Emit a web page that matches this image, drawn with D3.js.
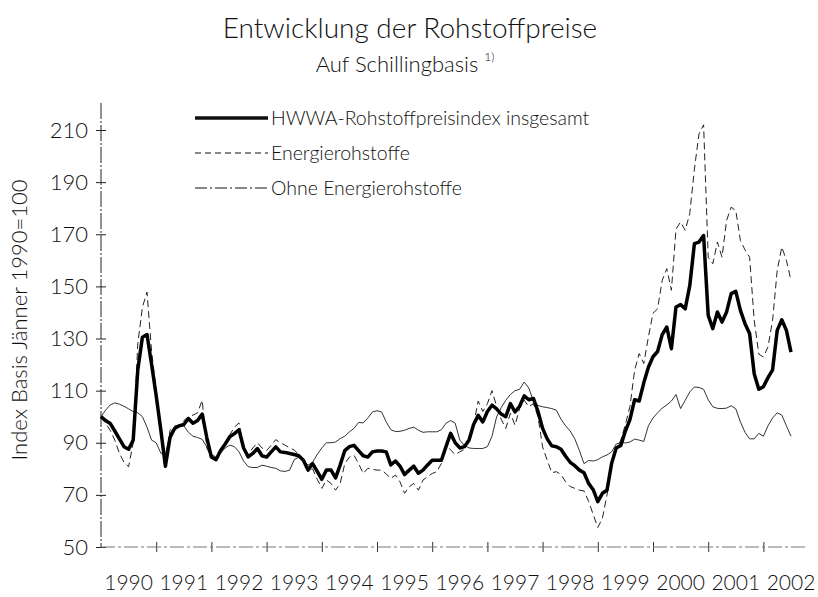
<!DOCTYPE html>
<html>
<head>
<meta charset="utf-8">
<script src="https://cdn.jsdelivr.net/npm/d3@7"></script>
<style>
  body { margin: 0; background: #fff; }
  svg text { font-family: Lato, "Open Sans", sans-serif; fill: #111; }
</style>
</head>
<body>
<div id="chart"></div>
<script>
// Monatswerte ab Jänner 1990 (Index Jänner 1990 = 100)
var gesamt = [
  100, 98.5, 97.4, 94.5, 91.5, 88.5, 87.5, 91, 118, 130.5, 131.5, 120,
  108, 95, 81, 92, 95.5, 96.5, 97, 99.3, 97.5, 98.5, 101, 92,
  84.5, 83.5, 87, 89.5, 92.3, 93.5, 95, 88, 84.6, 85.9, 87.8, 85,
  84.5, 86.5, 88.4, 86.5, 86.3, 85.9, 85.5, 85, 83.3, 79.5, 82, 79,
  76, 79.5, 79.5, 76.5, 81.5, 87, 88.5, 89, 87, 85, 84.5, 86.5,
  86.8, 86.8, 86.5, 81.5, 83, 81, 77.8, 79.5, 81, 78.3, 79.5, 81.5,
  83.3, 83.3, 83.3, 88.5, 93.6, 90, 88, 88.5, 91, 97, 100.5, 98,
  102, 104.4, 103, 101, 100, 105, 101.8, 104, 108, 106.5, 107, 102,
  95.5, 91.5, 88.8, 88.5, 87.5, 84.8, 82.5, 81.2, 79.5, 78.5, 74.4, 72,
  67.4, 70.6, 71.8, 82, 88, 89, 94.5, 99, 106.5, 106, 113, 119,
  123, 125, 131.5, 134.4, 126.1, 142.1, 143, 141.4, 150.4, 166.4, 167, 169.5,
  138.9, 133.8, 140.2, 136.3, 140.2, 147.2, 148.1, 140.8, 135.7, 131.9, 116.5, 110.5,
  111.5, 115, 118, 133.1, 137.2, 133.1, 124.8
];
var energie = [
  100, 97.5, 94.8, 91, 86, 82.5, 80.8, 90, 128, 142, 147.8, 125,
  110, 95, 81, 94.8, 96.5, 96.5, 98.5, 100, 100.6, 101.5, 106.3, 88,
  84.5, 83.5, 87, 90, 93, 96, 97.6, 88, 85.5, 88, 90, 88,
  87, 89, 91.2, 90, 89.1, 88, 87.2, 85.5, 83.5, 78.9, 80, 76,
  72.5, 75.7, 74.4, 71.8, 74.4, 82, 84.5, 85.2, 82, 78.2, 80.2, 79.8,
  79.5, 79.5, 78, 76.3, 77.6, 75, 70.6, 73.1, 74.4, 71.8, 75.7, 77,
  78.2, 78.9, 82, 89.7, 87.2, 85.5, 86.5, 87.5, 91, 97, 106, 102,
  105, 110, 104, 99, 95.5, 101.3, 96.7, 103.1, 106.3, 103.8, 105, 100,
  88.4, 83.3, 78.5, 78.9, 77.8, 75, 73.2, 72.5, 71.8, 71.5, 67.5, 62.5,
  57.5, 61, 70, 82, 87, 91, 97, 104, 117.8, 124.2, 120.4, 130.6,
  139.7, 141.4, 152.3, 156.8, 148.5, 172, 174.7, 171.5, 178, 195, 208.5, 212,
  161.2, 158.7, 167, 161.2, 175.3, 180.4, 179.1, 167.6, 164, 161.2, 137, 124,
  122.9, 126.8, 137, 156.1, 165.1, 160, 152.3
];
var ohneEnergie = [
  100, 102.5, 104.5, 105.3, 104.8, 104, 103, 102, 101.5, 100, 96, 91,
  90, 86, 85.5, 93.5, 96, 97, 96.5, 94, 92.5, 92, 91.3, 88.4,
  85.5, 84.5, 86, 88, 89.1, 88.5, 86.5, 83, 80.8, 80.5, 80.5, 81.4,
  81, 80.5, 80.2, 79.2, 79, 79.5, 83.5, 84.5, 83.3, 81.4, 82.5, 85.5,
  88, 90, 90, 90.3, 91.6, 92.5, 94.2, 95.5, 97.8, 97.6, 99.5, 101.8,
  102.3, 101.8, 98, 95, 94.3, 94.4, 94.8, 95.5, 96, 94.8, 94, 94.2,
  94.2, 94.2, 95, 97.5, 98.5, 97.5, 91, 89, 88, 87.8, 87.8, 87.8,
  88.5, 92.5, 99.9, 103.5, 106.3, 108.5, 110, 110.5, 113.3, 111, 106, 104.3,
  103.8, 103.5, 103.1, 102.5, 99, 96.5, 94.5, 91.5, 87, 82, 83.2, 83,
  83.5, 84.6, 85.3, 86.5, 89.5, 90.1, 89.9, 90.3, 91.4, 91, 90.5, 96.5,
  99.5, 101.5, 103.3, 104.5, 106, 108.5, 103.1, 106.3, 109.5, 111.4, 111.2, 110.5,
  106.5, 103.8, 103.2, 103.1, 103.3, 104.2, 103, 98, 94, 91.5, 91.5, 93.6,
  92.5, 96.5, 99.5, 101.5, 100.6, 96.5, 92.5
];
var jahre = [1990, 1991, 1992, 1993, 1994, 1995, 1996, 1997, 1998, 1999, 2000, 2001, 2002];
var yTicks = [50, 70, 90, 110, 130, 150, 170, 190, 210];
var legende = ["HWWA-Rohstoffpreisindex insgesamt", "Energierohstoffe", "Ohne Energierohstoffe"];

var width = 818, height = 597;
var svg = d3.select("#chart").append("svg")
    .attr("width", width)
    .attr("height", height);

// x: Jahre (Monate als Bruchteil), y: Indexwerte
var x = d3.scaleLinear().domain([1990, 2003]).range([101, 101 + 13 * 55.2]);
var y = d3.scaleLinear().domain([50, 210]).range([547, 130]);

// Titel
svg.append("text")
    .attr("x", 410).attr("y", 38)
    .attr("text-anchor", "middle")
    .style("font-size", "28px")
    .style("font-weight", 300)
    .text("Entwicklung der Rohstoffpreise");

var sub = svg.append("text")
    .attr("x", 405).attr("y", 72)
    .attr("text-anchor", "middle")
    .style("font-size", "22px")
    .style("font-weight", 300);
sub.append("tspan").text("Auf Schillingbasis ");
sub.append("tspan").attr("dy", -11).style("font-size", "12px").text("1)");

// y-Achse
var yAxis = svg.append("g")
    .attr("transform", "translate(" + x(1990) + ",0)")
    .call(d3.axisLeft(y).tickValues(yTicks).tickSize(5).tickPadding(8));
yAxis.select(".domain").remove();
yAxis.selectAll(".tick line").attr("x1", 5).attr("stroke", "#222");
yAxis.selectAll(".tick text")
    .style("font-size", "22px")
    .style("font-weight", 300)
    .style("font-family", "Lato, sans-serif")
    .attr("fill", "#111");
svg.append("line")
    .attr("x1", x(1990)).attr("x2", x(1990))
    .attr("y1", 103).attr("y2", y(50))
    .attr("stroke", "#222").attr("stroke-width", 1)
    .attr("stroke-dasharray", "16,2,2,2");

// x-Achse
var xAxis = svg.append("g")
    .attr("transform", "translate(0," + y(50) + ")")
    .call(d3.axisBottom(x).tickValues(d3.range(1991, 2003)).tickSize(5).tickFormat(""));
xAxis.select(".domain").remove();
xAxis.selectAll(".tick line").attr("y1", -5).attr("stroke", "#333");
svg.append("line")
    .attr("x1", x(1990)).attr("x2", 805)
    .attr("y1", y(50)).attr("y2", y(50))
    .attr("stroke", "#777").attr("stroke-width", 1.2)
    .attr("stroke-dasharray", "14,3,3,3");

svg.append("g").selectAll("text")
    .data(jahre)
    .enter().append("text")
    .attr("x", d => x(d + 0.5))
    .attr("y", 590)
    .attr("text-anchor", "middle")
    .style("font-size", "21px")
    .style("font-weight", 300)
    .text(d => d);

svg.append("text")
    .attr("transform", "translate(27,320) rotate(-90)")
    .attr("text-anchor", "middle")
    .style("font-size", "22px")
    .style("font-weight", 300)
    .text("Index Basis Jänner 1990=100");

// Linien
var line = d3.line()
    .x((d, i) => x(1990 + i / 12))
    .y(d => y(d));

var serien = [
    {werte: ohneEnergie, breite: 1, dash: null, farbe: "#333"},
    {werte: energie, breite: 1, dash: "7,4", farbe: "#222"},
    {werte: gesamt, breite: 3.5, dash: null, farbe: "#000"}
];

svg.selectAll("path.serie")
    .data(serien)
    .enter().append("path")
    .attr("class", "serie")
    .attr("d", d => line(d.werte))
    .attr("fill", "none")
    .attr("stroke", d => d.farbe)
    .attr("stroke-width", d => d.breite)
    .attr("stroke-dasharray", d => d.dash)
    .attr("stroke-linejoin", "round");

// Legende
var legStil = [
    {breite: 3.5, dash: null},
    {breite: 1, dash: "6,4"},
    {breite: 1, dash: "12,3,2,3"}
];
var leg = svg.append("g").selectAll("g")
    .data(legende)
    .enter().append("g")
    .attr("transform", (d, i) => "translate(0," + (118 + i * 35) + ")");
leg.append("line")
    .attr("x1", 195).attr("x2", 268)
    .attr("stroke", "#111")
    .attr("stroke-width", (d, i) => legStil[i].breite)
    .attr("stroke-dasharray", (d, i) => legStil[i].dash);
leg.append("text")
    .attr("x", 271).attr("y", 7)
    .style("font-size", "19.5px")
    .style("font-weight", 300)
    .text(d => d);
</script>
</body>
</html>
